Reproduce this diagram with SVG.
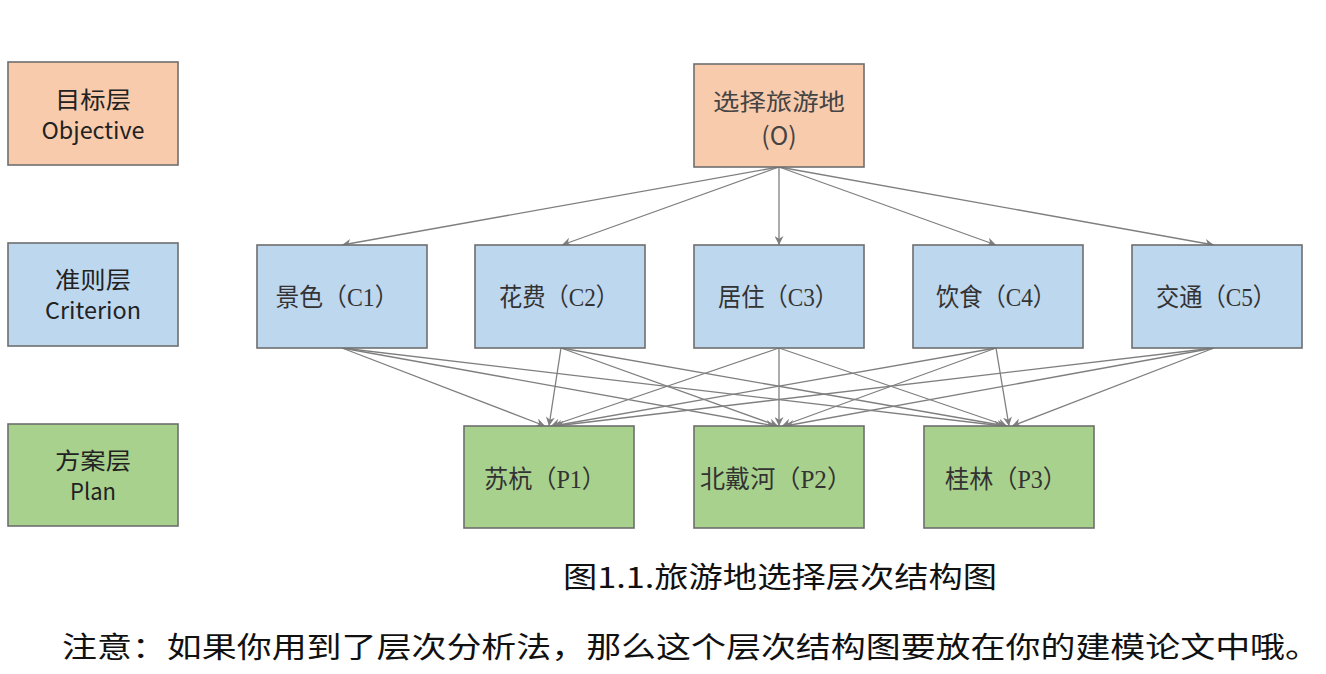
<svg xmlns="http://www.w3.org/2000/svg" width="1326" height="674" viewBox="0 0 1326 674">
<style>
.box{stroke:#6e6e6e;stroke-width:1.6}
.o{fill:#F8CBAD}.c{fill:#BDD7EE}.p{fill:#A9D18E}
.lab{font-family:"Noto Sans CJK SC","Liberation Sans",sans-serif;font-size:23px;fill:#222;text-anchor:middle}
.ser{font-family:"Liberation Serif","Noto Sans CJK SC",serif;font-size:25px;fill:#333;text-anchor:middle}
.cap{font-family:"Noto Sans CJK SC","Liberation Sans",sans-serif;font-size:29px;fill:#111}
.ar{stroke:#7f7f7f;stroke-width:1.3;fill:none;marker-end:url(#ah)}
</style>
<defs>
<marker id="ah" viewBox="0 0 10 10" refX="10" refY="5" markerWidth="9" markerHeight="9" markerUnits="userSpaceOnUse" orient="auto">
<path d="M0,0 L10,5 L0,10 L3,5 Z" fill="#7f7f7f"/>
</marker>
</defs>
<rect width="1326" height="674" fill="#fff"/>
<g id="legend-objective"><rect class="box o" x="8" y="62" width="170" height="103"/><text class="lab" x="93" y="108" textLength="76" lengthAdjust="spacingAndGlyphs">目标层</text><text class="lab" x="93" y="139" textLength="103" lengthAdjust="spacingAndGlyphs">Objective</text></g>
<g id="legend-criterion"><rect class="box c" x="8" y="243" width="170" height="103"/><text class="lab" x="93" y="288" textLength="76" lengthAdjust="spacingAndGlyphs">准则层</text><text class="lab" x="93" y="319" textLength="96" lengthAdjust="spacingAndGlyphs">Criterion</text></g>
<g id="legend-plan"><rect class="box p" x="8" y="424" width="170" height="102"/><text class="lab" x="93" y="469" textLength="76" lengthAdjust="spacingAndGlyphs">方案层</text><text class="lab" x="93" y="500" textLength="46" lengthAdjust="spacingAndGlyphs">Plan</text></g>
<g id="connectors">
<line class="ar" x1="779" y1="167" x2="342" y2="245"/>
<line class="ar" x1="779" y1="167" x2="562" y2="245"/>
<line class="ar" x1="779" y1="167" x2="779" y2="245"/>
<line class="ar" x1="779" y1="167" x2="996" y2="245"/>
<line class="ar" x1="779" y1="167" x2="1214" y2="245"/>
<line class="ar" x1="342" y1="348" x2="545" y2="426"/>
<line class="ar" x1="342" y1="348" x2="775" y2="426"/>
<line class="ar" x1="342" y1="348" x2="1003" y2="426"/>
<line class="ar" x1="561" y1="348" x2="549" y2="426"/>
<line class="ar" x1="561" y1="348" x2="778" y2="426"/>
<line class="ar" x1="561" y1="348" x2="1006" y2="426"/>
<line class="ar" x1="779" y1="348" x2="551" y2="426"/>
<line class="ar" x1="779" y1="348" x2="779" y2="426"/>
<line class="ar" x1="779" y1="348" x2="1007" y2="426"/>
<line class="ar" x1="996" y1="348" x2="553" y2="426"/>
<line class="ar" x1="996" y1="348" x2="782" y2="426"/>
<line class="ar" x1="996" y1="348" x2="1009" y2="426"/>
<line class="ar" x1="1214" y1="348" x2="555" y2="426"/>
<line class="ar" x1="1214" y1="348" x2="785" y2="426"/>
<line class="ar" x1="1214" y1="348" x2="1012" y2="426"/>
</g>
<g id="node-O"><rect class="box o" x="694" y="64" width="170" height="103"/><text class="lab" x="779" y="110" style="fill:#444" textLength="132" lengthAdjust="spacingAndGlyphs">选择旅游地</text><text class="lab" x="779" y="145" style="fill:#444;font-size:25px">(O)</text></g>
<g id="node-C1"><rect class="box c" x="257" y="245" width="170" height="103"/><text class="ser" x="337" y="306" textLength="123" lengthAdjust="spacingAndGlyphs">景色（C1）</text></g>
<g id="node-C2"><rect class="box c" x="475" y="245" width="170" height="103"/><text class="ser" x="559" y="306" textLength="120" lengthAdjust="spacingAndGlyphs">花费（C2）</text></g>
<g id="node-C3"><rect class="box c" x="694" y="245" width="170" height="103"/><text class="ser" x="778" y="306" textLength="120" lengthAdjust="spacingAndGlyphs">居住（C3）</text></g>
<g id="node-C4"><rect class="box c" x="913" y="245" width="170" height="103"/><text class="ser" x="996" y="306" textLength="120" lengthAdjust="spacingAndGlyphs">饮食（C4）</text></g>
<g id="node-C5"><rect class="box c" x="1132" y="245" width="170" height="103"/><text class="ser" x="1216" y="306" textLength="120" lengthAdjust="spacingAndGlyphs">交通（C5）</text></g>
<g id="node-P1"><rect class="box p" x="464" y="426" width="170" height="102"/><text class="ser" x="545" y="488" textLength="122" lengthAdjust="spacingAndGlyphs">苏杭（P1）</text></g>
<g id="node-P2"><rect class="box p" x="694" y="426" width="170" height="102"/><text class="ser" x="776" y="488" textLength="152" lengthAdjust="spacingAndGlyphs">北戴河（P2）</text></g>
<g id="node-P3"><rect class="box p" x="924" y="426" width="170" height="102"/><text class="ser" x="1006" y="488" textLength="122" lengthAdjust="spacingAndGlyphs">桂林（P3）</text></g>
<text class="cap" x="563" y="588" textLength="434" lengthAdjust="spacingAndGlyphs">图1.1.旅游地选择层次结构图</text>
<text class="cap" x="62" y="658" textLength="1258" lengthAdjust="spacingAndGlyphs">注意：如果你用到了层次分析法，那么这个层次结构图要放在你的建模论文中哦。</text>
</svg>
